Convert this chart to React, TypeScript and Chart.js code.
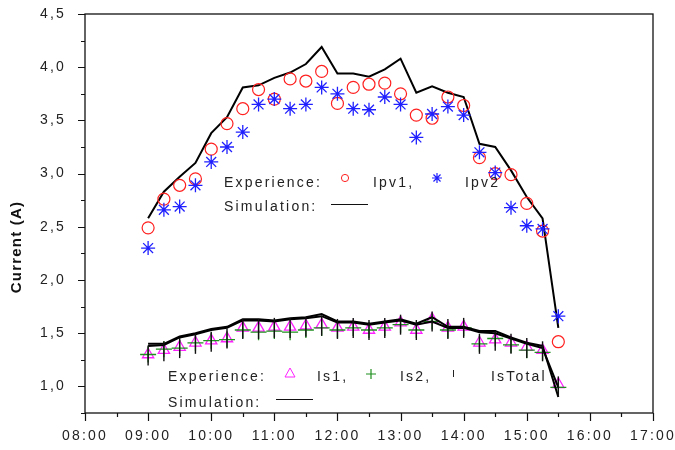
import { useEffect, useRef } from 'react';
import { Chart, registerables } from 'chart.js';

Chart.register(...registerables);

// ---- data (hours of day) ----
const times = [9, 9.25, 9.5, 9.75, 10, 10.25, 10.5, 10.75, 11, 11.25, 11.5, 11.75, 12, 12.25, 12.5, 12.75, 13, 13.25, 13.5, 13.75, 14, 14.25, 14.5, 14.75, 15, 15.25, 15.5];

const ipv1 = [2.49, 2.76, 2.89, 2.95, 3.23, 3.47, 3.61, 3.79, 3.70, 3.89, 3.87, 3.96, 3.66, 3.81, 3.84, 3.85, 3.75, 3.55, 3.52, 3.72, 3.64, 3.15, 3.00, 2.99, 2.72, 2.46, 1.42];
const ipv2 = [2.30, 2.66, 2.69, 2.89, 3.11, 3.25, 3.39, 3.65, 3.70, 3.61, 3.65, 3.81, 3.75, 3.61, 3.60, 3.72, 3.65, 3.34, 3.56, 3.63, 3.55, 3.20, 3.01, 2.68, 2.51, 2.48, 1.66];
const simPv = [2.58, 2.83, 2.97, 3.10, 3.38, 3.53, 3.81, 3.83, 3.90, 3.95, 4.03, 4.19, 3.94, 3.94, 3.91, 3.98, 4.08, 3.76, 3.82, 3.76, 3.72, 3.28, 3.25, 3.03, 2.78, 2.58, 1.55];

const is1 = [1.30, 1.34, 1.37, 1.41, 1.43, 1.45, 1.55, 1.55, 1.56, 1.56, 1.57, 1.58, 1.55, 1.56, 1.53, 1.56, 1.60, 1.53, 1.63, 1.55, 1.56, 1.41, 1.44, 1.41, 1.37, 1.34, 1.02];
const is2 = [1.30, 1.35, 1.36, 1.41, 1.43, 1.44, 1.53, 1.51, 1.52, 1.51, 1.53, 1.55, 1.53, 1.55, 1.53, 1.55, 1.58, 1.53, 1.61, 1.53, 1.55, 1.40, 1.45, 1.39, 1.34, 1.32, 0.99];
const isTotal = [1.29, 1.33, 1.36, 1.40, 1.42, 1.45, 1.54, 1.54, 1.55, 1.55, 1.56, 1.57, 1.54, 1.55, 1.53, 1.55, 1.58, 1.53, 1.61, 1.54, 1.55, 1.40, 1.43, 1.40, 1.36, 1.33, 1.00];
const simIsA = [1.40, 1.40, 1.47, 1.50, 1.54, 1.56, 1.63, 1.63, 1.62, 1.64, 1.65, 1.68, 1.61, 1.61, 1.59, 1.61, 1.63, 1.59, 1.65, 1.56, 1.56, 1.52, 1.52, 1.46, 1.41, 1.38, 0.90];
const simIsB = [1.38, 1.39, 1.46, 1.49, 1.53, 1.55, 1.62, 1.62, 1.61, 1.63, 1.64, 1.66, 1.60, 1.60, 1.58, 1.60, 1.62, 1.58, 1.61, 1.55, 1.55, 1.51, 1.50, 1.45, 1.40, 1.36, 0.99];

const xTickLabels = ['08:00', '09:00', '10:00', '11:00', '12:00', '13:00', '14:00', '15:00', '16:00', '17:00'];
const yTickLabels = ['1,0', '1,5', '2,0', '2,5', '3,0', '3,5', '4,0', '4,5'];

const FONT = '"Liberation Sans", Arial, Helvetica, sans-serif';
const SPACING = '2.2px';

const pts = (ys: number[]) => times.map((t, i) => ({ x: t, y: ys[i] }));

const decorPlugin = {
  id: 'decor',
  beforeUpdate(chart: any) {
    chart.ctx.letterSpacing = SPACING;
  },
  beforeDraw(chart: any) {
    chart.ctx.letterSpacing = SPACING;
  },
  afterDraw(chart: any) {
    const { ctx, chartArea: a, scales } = chart;
    ctx.save();
    ctx.strokeStyle = '#111';
    ctx.lineWidth = 1.3;
    ctx.strokeRect(a.left, a.top, a.right - a.left, a.bottom - a.top);

    ctx.lineWidth = 1.2;
    ctx.beginPath();
    for (const t of scales.x.ticks) {
      const px = Math.round(scales.x.getPixelForValue(t.value)) + 0.5;
      const len = Math.abs(t.value - Math.round(t.value)) < 1e-6 ? 8 : 4;
      ctx.moveTo(px, a.bottom);
      ctx.lineTo(px, a.bottom + len);
    }
    for (const t of scales.y.ticks) {
      const py = Math.round(scales.y.getPixelForValue(t.value)) + 0.5;
      const major = Math.abs(t.value * 2 - Math.round(t.value * 2)) < 1e-6;
      const len = major ? 7 : 4;
      ctx.moveTo(a.left, py);
      ctx.lineTo(a.left - len, py);
    }
    ctx.stroke();

    // y title
    ctx.save();
    ctx.translate(17, 247);
    ctx.rotate(-Math.PI / 2);
    ctx.letterSpacing = '1.2px';
    ctx.font = `bold 15px ${FONT}`;
    ctx.fillStyle = '#111';
    ctx.textAlign = 'center';
    ctx.textBaseline = 'middle';
    ctx.fillText('Current (A)', 0, 0);
    ctx.restore();

    // in-plot legends
    ctx.letterSpacing = SPACING;
    ctx.font = `14px ${FONT}`;
    ctx.fillStyle = '#222';
    ctx.textAlign = 'left';
    ctx.textBaseline = 'alphabetic';

    // upper legend
    ctx.fillText('Experience:', 224, 186.5);
    ctx.fillText('Ipv1,', 373, 186.5);
    ctx.fillText('Ipv2', 465, 186.5);
    ctx.fillText('Simulation:', 224, 211);
    ctx.strokeStyle = '#111';
    ctx.lineWidth = 1.2;
    ctx.beginPath();
    ctx.moveTo(331, 204.5);
    ctx.lineTo(368, 204.5);
    ctx.stroke();
    ctx.strokeStyle = '#ff2020';
    ctx.lineWidth = 1;
    ctx.beginPath();
    ctx.arc(345, 178, 3.6, 0, Math.PI * 2);
    ctx.stroke();
    ctx.strokeStyle = '#2020ff';
    ctx.lineWidth = 1.2;
    ctx.beginPath();
    const sx = 437, sy = 178, sr = 5;
    ctx.moveTo(sx - sr, sy); ctx.lineTo(sx + sr, sy);
    ctx.moveTo(sx, sy - sr); ctx.lineTo(sx, sy + sr);
    const d = sr * 0.7071;
    ctx.moveTo(sx - d, sy - d); ctx.lineTo(sx + d, sy + d);
    ctx.moveTo(sx - d, sy + d); ctx.lineTo(sx + d, sy - d);
    ctx.stroke();

    // lower legend
    ctx.fillStyle = '#222';
    ctx.fillText('Experience:', 168, 380.5);
    ctx.fillText('Is1,', 317, 380.5);
    ctx.fillText('Is2,', 400, 380.5);
    ctx.fillText('IsTotal', 491, 380.5);
    ctx.fillText('Simulation:', 168, 406.5);
    ctx.strokeStyle = '#111';
    ctx.lineWidth = 1.2;
    ctx.beginPath();
    ctx.moveTo(276, 399.5);
    ctx.lineTo(313, 399.5);
    ctx.stroke();
    ctx.strokeStyle = '#ff20ff';
    ctx.lineWidth = 1;
    ctx.beginPath();
    ctx.moveTo(290, 368);
    ctx.lineTo(285, 377);
    ctx.lineTo(295, 377);
    ctx.closePath();
    ctx.stroke();
    ctx.strokeStyle = '#1f8f1f';
    ctx.lineWidth = 1.2;
    ctx.beginPath();
    ctx.moveTo(366, 374); ctx.lineTo(376, 374);
    ctx.moveTo(371, 369); ctx.lineTo(371, 379);
    ctx.stroke();
    ctx.strokeStyle = '#222';
    ctx.lineWidth = 1;
    ctx.beginPath();
    ctx.moveTo(453.5, 370); ctx.lineTo(453.5, 377);
    ctx.stroke();

    ctx.restore();
  },
};

export default function App() {
  const ref = useRef<HTMLCanvasElement | null>(null);

  useEffect(() => {
    if (!ref.current) return;
    Chart.defaults.font.family = FONT;
    Chart.defaults.color = '#111';
    const chart = new Chart(ref.current, {
      type: 'scatter',
      data: {
        datasets: [
          {
            label: 'Is Total',
            data: pts(isTotal),
            pointStyle: 'line',
            rotation: 90,
            pointRadius: 10,
            borderColor: '#111',
            backgroundColor: '#111',
            borderWidth: 1.4,
            showLine: false,
            order: 1,
          },
          {
            label: 'Sim Is A',
            data: pts(simIsA),
            showLine: true,
            pointRadius: 0,
            borderColor: '#000',
            borderWidth: 2,
            order: 2,
          },
          {
            label: 'Sim Is B',
            data: pts(simIsB),
            showLine: true,
            pointRadius: 0,
            borderColor: '#000',
            borderWidth: 2,
            order: 2,
          },
          {
            label: 'Is2',
            data: pts(is2),
            pointStyle: 'cross',
            pointRadius: 8,
            borderColor: '#1f8f1f',
            backgroundColor: '#1f8f1f',
            borderWidth: 1.3,
            showLine: false,
            order: 3,
          },
          {
            label: 'Is1',
            data: pts(is1),
            pointStyle: 'triangle',
            pointRadius: 6.5,
            borderColor: '#ff20ff',
            backgroundColor: 'rgba(0,0,0,0)',
            borderWidth: 1.3,
            showLine: false,
            order: 4,
          },
          {
            label: 'Ipv2',
            data: pts(ipv2),
            pointStyle: 'star',
            pointRadius: 7,
            borderColor: '#2020ff',
            backgroundColor: '#2020ff',
            borderWidth: 1.3,
            showLine: false,
            order: 5,
          },
          {
            label: 'Ipv1',
            data: pts(ipv1),
            pointStyle: 'circle',
            pointRadius: 6,
            borderColor: '#ff2020',
            backgroundColor: 'rgba(0,0,0,0)',
            borderWidth: 1.2,
            showLine: false,
            order: 6,
          },
          {
            label: 'Sim Pv',
            data: pts(simPv),
            showLine: true,
            pointRadius: 0,
            borderColor: '#000',
            borderWidth: 2,
            order: 7,
          },
        ],
      },
      options: {
        responsive: false,
        animation: false,
        devicePixelRatio: 1,
        layout: { padding: { left: 0, top: 14, right: 22, bottom: 0 } },
        plugins: {
          legend: { display: false },
          tooltip: { enabled: false },
        },
        scales: {
          x: {
            type: 'linear',
            min: 8,
            max: 17,
            border: { display: false },
            grid: { display: false, drawTicks: false, tickLength: 0 },
            ticks: {
              stepSize: 0.5,
              autoSkip: false,
              maxRotation: 0,
              padding: 15,
              color: '#222',
              font: { size: 14 },
              callback: (v: any) => {
                const n = Number(v);
                if (Math.abs(n - Math.round(n)) < 1e-6) return xTickLabels[Math.round(n) - 8];
                return '';
              },
            },
            afterFit: (s: any) => {
              s.height = 37;
              s.paddingLeft = 0;
              s.paddingRight = 0;
            },
          },
          y: {
            type: 'linear',
            min: 0.75,
            max: 4.5,
            border: { display: false },
            grid: { display: false, drawTicks: false, tickLength: 0 },
            ticks: {
              stepSize: 0.25,
              autoSkip: false,
              padding: 19,
              color: '#222',
              font: { size: 14 },
              callback: (v: any) => {
                const n = Number(v);
                if (n >= 1 && Math.abs(n * 2 - Math.round(n * 2)) < 1e-6) return yTickLabels[Math.round((n - 1) * 2)];
                return '';
              },
            },
            afterFit: (s: any) => {
              s.width = 85;
              s.paddingTop = 0;
              s.paddingBottom = 0;
            },
          },
        },
      },
      plugins: [decorPlugin],
    });
    return () => chart.destroy();
  }, []);

  return (
    <div style={{ position: 'absolute', left: 0, top: 0, width: 675, height: 450, background: '#fff' }}>
      <canvas ref={ref} width={675} height={450} style={{ display: 'block' }} />
    </div>
  );
}
